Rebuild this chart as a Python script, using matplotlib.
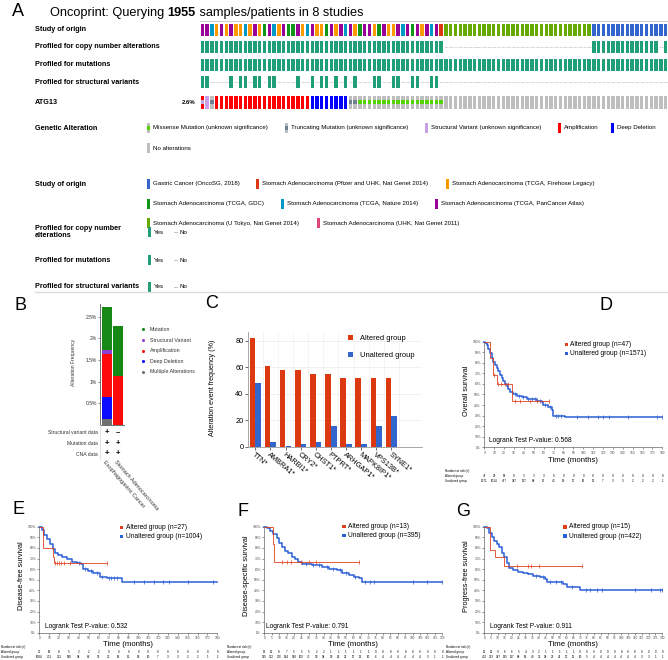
import numpy as np
import matplotlib
matplotlib.use('Agg')
import matplotlib.pyplot as plt
from matplotlib.patches import Rectangle
from matplotlib.transforms import blended_transform_factory

plt.rcParams['font.family'] = ['Liberation Sans', 'DejaVu Sans']

W, H = 668, 660

# ---------------- A: oncoprint data ----------------
study_of_origin = (['pan', 'pan', 'nat', 'fh', 'pan', 'fh', 'pan', 'fh', 'fh', 'nat',
                    'fh', 'pan', 'fh', 'gdc', 'pan', 'nat', 'fh', 'pan', 'gdc', 'gdc',
                    'pan', 'fh', 'nat', 'pan', 'fh', 'fh', 'gdc', 'pan', 'fh', 'pan',
                    'nat', 'pan', 'fh', 'gdc', 'pan', 'pan', 'fh', 'gdc', 'pan', 'fh',
                    'fh', 'pan', 'nat', 'pan', 'gdc', 'pan', 'fh', 'pan', 'nat', 'pan',
                    'pf'] + ['tok'] * 31 + ['sg'] * 16)
cna_profiled = [1] * 51 + [0] * 31 + [1] * 14 + [0] + [1]
mut_profiled = [1] * 98
sv_cols = [0, 1, 6, 8, 9, 11, 12, 14, 15, 20, 23, 25, 26, 28, 30, 32, 36, 37, 40, 41, 44, 45, 48, 49]
atg13 = (['amp_sv', 'sv', 'trunc'] + ['amp'] * 20 + ['del'] * 8 + ['trunc'] * 2
         + ['mis'] * 18 + ['none'] * 47)
atg13_pct = '2.6%'
n_samples = 1955
n_studies = 8

study_legend = [('sg', 'Gastric Cancer (OncoSG, 2018)'),
                ('pf', 'Stomach Adenocarcinoma (Pfizer and UHK, Nat Genet 2014)'),
                ('fh', 'Stomach Adenocarcinoma (TCGA, Firehose Legacy)'),
                ('gdc', 'Stomach Adenocarcinoma (TCGA, GDC)'),
                ('nat', 'Stomach Adenocarcinoma (TCGA, Nature 2014)'),
                ('pan', 'Stomach Adenocarcinoma (TCGA, PanCancer Atlas)'),
                ('tok', 'Stomach Adenocarcinoma (U Tokyo, Nat Genet 2014)'),
                ('uhk', 'Stomach Adenocarcinoma (UHK, Nat Genet 2011)')]
alt_legend = [('mis', 'Missense Mutation (unknown significance)'),
              ('trunc', 'Truncating Mutation (unknown significance)'),
              ('sv', 'Structural Variant (unknown significance)'),
              ('amp', 'Amplification'),
              ('del', 'Deep Deletion'),
              ('none', 'No alterations')]

# ---------------- B data ----------------
b_cancer = ['Esophagogastric Cancer', 'Stomach Adenocarcinoma']
b_multiple = [0.13, 0.0]
b_deep_del = [0.52, 0.0]
b_amp = [1.00, 1.13]
b_sv = [0.08, 0.0]
b_mutation = [1.00, 1.16]
b_sv_data = ['+', '\u2013']
b_mut_data = ['+', '+']
b_cna_data = ['+', '+']

# ---------------- C data ----------------
c_genes = ['TTN*', 'AMBRA1*', 'HARBI1*', 'CRY2*', 'CHST1*', 'PTPRT*', 'ARHGAP1*',
           'MAPK8IP1*', 'VPS13B*', 'SYNE1*']
c_altered = [81.8, 60.6, 57.6, 57.6, 54.5, 54.5, 51.5, 51.5, 51.5, 51.5]
c_unaltered = [48.3, 3.8, 0.8, 2.0, 3.5, 15.6, 1.8, 1.8, 15.6, 23.1]

# ---------------- D: overall survival ----------------
d_alt_t = [0, 5.7, 8.4, 12.5, 27.6]
d_alt_s = [1.0, 0.85, 0.68, 0.60, 0.44]
d_alt_end = 65.7
d_alt_cens = [10, 14, 17, 21, 24, 31, 36, 46, 53, 65.7]
d_un_t = [0, 1, 2.4, 4, 5.7, 7.5, 9.1, 11, 12.5, 14, 15.8, 17.5, 19.2, 21, 22.6, 24, 26,
          29.3, 32.7, 37.7, 42.8, 52.9, 58, 59.7, 64.7, 68.1, 69.8, 81.6]
d_un_s = [1.0, 0.985, 0.968, 0.93, 0.89, 0.85, 0.81, 0.78, 0.75, 0.72, 0.685, 0.655, 0.63,
          0.60, 0.58, 0.555, 0.527, 0.50, 0.486, 0.473, 0.457, 0.44, 0.43, 0.40, 0.385,
          0.35, 0.30, 0.285]
d_un_end = 180
d_un_cens = [31, 35, 39, 44, 48, 51, 56, 61, 66, 72, 75, 78, 94, 105, 115, 120, 126, 145, 175, 180]
d_risk_alt = [47, 29, 18, 8, 3, 3, 3, 0, 0, 0, 0, 0, 0, 0, 0, 0, 0, 0, 0]
d_risk_un = [1571, 1014, 477, 247, 137, 88, 67, 43, 19, 17, 16, 13, 7, 3, 3, 2, 2, 2, 1]

# ---------------- E: disease-free survival ----------------
e_alt_t = [0, 3.4, 13.5, 15.0]
e_alt_s = [1.0, 0.80, 0.71, 0.655]
e_alt_end = 68
e_alt_cens = [16, 18, 20, 22, 25, 31, 68]
e_un_t = [0, 2.4, 5.0, 7.4, 10.8, 13.5, 15.8, 19.2, 22.6, 27.6, 32.7, 37.7, 42.0, 43.8,
          49.5, 54.6, 61.3, 68.0, 83.2]
e_un_s = [1.0, 0.969, 0.92, 0.88, 0.836, 0.786, 0.755, 0.733, 0.717, 0.692, 0.67, 0.66,
          0.645, 0.597, 0.585, 0.56, 0.528, 0.513, 0.475]
e_un_end = 180
e_un_cens = [40, 46, 52, 58, 63, 70, 73, 76, 79, 96, 106, 116, 125, 131, 150, 176]
e_risk_alt = [27, 16, 8, 5, 2, 2, 2, 0, 0, 0, 0, 0, 0, 0, 0, 0, 0, 0, 0]
e_risk_un = [1004, 701, 331, 180, 94, 63, 51, 33, 16, 15, 14, 10, 7, 3, 3, 2, 2, 1, 1]

# ---------------- F: disease-specific survival ----------------
f_alt_t = [0, 5.6, 6.8]
f_alt_s = [1.0, 0.836, 0.667]
f_alt_end = 63.7
f_alt_cens = [12, 15, 18, 25, 30, 35, 63.7]
f_un_t = [0, 1.6, 3.8, 6.1, 8.4, 9.9, 11.7, 14.0, 16.3, 18.5, 20.8, 23.0, 25.7, 32.0,
          38.8, 43.3, 49.0, 52.4, 56.9, 60.3, 63.7, 65.9]
f_un_s = [1.0, 0.984, 0.962, 0.93, 0.89, 0.843, 0.81, 0.774, 0.748, 0.717, 0.695, 0.67,
          0.648, 0.638, 0.623, 0.604, 0.59, 0.566, 0.544, 0.522, 0.513, 0.481]
f_un_end = 120
f_un_cens = [28, 33, 37, 42, 46, 51, 55, 61, 68, 71, 74, 100, 110, 120]
f_risk_alt = [13, 12, 8, 7, 5, 5, 5, 2, 2, 1, 1, 1, 1, 1, 1, 0, 0, 0, 0, 0, 0, 0, 0, 0, 0]
f_risk_un = [395, 332, 276, 194, 140, 102, 75, 53, 38, 29, 25, 22, 17, 12, 10, 6, 4, 4, 4,
             4, 4, 4, 3, 1, 1]

# ---------------- G: progress-free survival ----------------
g_alt_t = [0, 4.1, 7.8, 14.1]
g_alt_s = [1.0, 0.78, 0.71, 0.632]
g_alt_end = 71
g_alt_cens = [24, 32, 34, 40, 71]
g_un_t = [0, 1.7, 3.4, 5.4, 7.3, 9.0, 10.7, 12.7, 14.6, 16.3, 18.0, 21.2, 24.8, 28.5, 32.1,
          35.8, 40.6, 44.3, 45.5, 54.0, 57.7, 60.1, 69.8]
g_un_s = [1.0, 0.984, 0.943, 0.906, 0.868, 0.836, 0.805, 0.755, 0.71, 0.654, 0.607, 0.591,
          0.575, 0.566, 0.553, 0.535, 0.522, 0.503, 0.481, 0.475, 0.456, 0.434, 0.403]
g_un_end = 130
g_un_cens = [38, 43, 48, 52, 56, 64, 74, 77, 82, 86, 110, 122, 128, 130]
g_risk_alt = [15, 12, 9, 6, 6, 5, 4, 3, 2, 1, 1, 1, 1, 1, 0, 0, 0, 0, 0, 0, 0, 0, 0, 0, 0, 0, 0]
g_risk_un = [422, 333, 247, 195, 117, 88, 65, 49, 33, 28, 23, 21, 17, 11, 10, 5, 4, 4, 4, 4,
             4, 4, 4, 3, 3, 1, 1]

# ---------------- styles ----------------
study_color = {'sg': '#3366cc', 'pf': '#dc3912', 'fh': '#ff9900', 'gdc': '#109618',
               'nat': '#0099c6', 'pan': '#990099', 'tok': '#66aa00', 'uhk': '#dd4477'}
alt_color = {'mis': '#53d400', 'trunc': '#708090', 'sv': '#c9a0e6', 'amp': '#ff0000',
             'del': '#0000ff', 'none': '#bebebe'}
TEAL = '#1f9e77'
RED = '#e0401e'
BLUE = '#2b5fd6'
LAB = 5.2   # bold row labels in A


def box(x, y, w, h):
    # pixel box (top-left origin) -> figure fraction
    return [x / W, 1 - (y + h) / H, w / W, h / H]


fig = plt.figure(figsize=(W / 100, H / 100), dpi=100)
# overlay axes in pixel coordinates for free text, legends and rules
bg = fig.add_axes([0, 0, 1, 1], zorder=10)
bg.set_xlim(0, W)
bg.set_ylim(H, 0)
bg.axis('off')
bg.patch.set_visible(False)


def txt(x, y, s, size=4.4, **kw):
    kw.setdefault('va', 'center')
    kw.setdefault('ha', 'left')
    return bg.text(x, y, s, fontsize=size, **kw)


# panel letters
for letter, (lx, ly) in zip('ABCDEFG', [(18, 12), (20, 305), (212, 304), (606, 305),
                                        (19, 510), (243, 511), (463, 511)]):
    txt(lx, ly, letter, size=13, ha='center')

# ---------------- A ----------------
t1 = txt(50, 13, 'Oncoprint: Querying ', size=9.2)
t2 = bg.annotate(str(n_samples), xy=(1, 0), xycoords=t1, va='bottom', ha='left',
                 fontsize=9.2, fontweight='bold')
bg.annotate(' samples/patients in %d studies' % n_studies, xy=(1, 0), xycoords=t2,
            va='bottom', ha='left', fontsize=9.2)
bg.plot([200, 668], [21, 21], color='#d0d0d0', lw=0.8)

n = len(atg13)
tracks = {'study': (23.5, 12), 'cna': (41, 12), 'mut': (58.5, 12), 'sv': (76, 12),
          'gene': (95.5, 13)}
track_labels = [('study', 'Study of origin'), ('cna', 'Profiled for copy number alterations'),
                ('mut', 'Profiled for mutations'), ('sv', 'Profiled for structural variants'),
                ('gene', 'ATG13')]
for key, lab in track_labels:
    top, h = tracks[key]
    txt(35, top + h / 2, lab, size=LAB, fontweight='bold')
txt(195, tracks['gene'][0] + 6.5, atg13_pct, size=4.3, ha='right', fontweight='bold')

ax_a = fig.add_axes(box(200, 20, 468, 95))
ax_a.set_xlim(0, n)
ax_a.set_ylim(115, 20)
ax_a.axis('off')
cols = np.arange(n) + 0.5
bw = 0.72

top, h = tracks['study']
ax_a.bar(cols, h, bottom=top, width=bw, color=[study_color[c] for c in study_of_origin])

sv_profiled = [1 if i in sv_cols else 0 for i in range(n)]
for key, prof in (('cna', cna_profiled), ('mut', mut_profiled), ('sv', sv_profiled)):
    top, h = tracks[key]
    prof = np.array(prof, bool)
    ax_a.bar(cols[prof], h, bottom=top, width=bw, color=TEAL)
    if (~prof).any():
        ax_a.hlines(np.full((~prof).sum(), top + h / 2), cols[~prof] - 0.4, cols[~prof] + 0.4,
                    color='#c8c8c8', lw=0.5)

top, h = tracks['gene']
alt = np.array(atg13)
ax_a.bar(cols, h, bottom=top, width=bw, color=alt_color['none'])
for code in ('amp', 'del', 'sv'):
    m = (alt == code) | ((alt == 'amp_sv') & (code == 'amp'))
    ax_a.bar(cols[m], h, bottom=top, width=bw, color=alt_color[code])
for code in ('mis', 'trunc', 'sv'):
    m = (alt == code) if code != 'sv' else (alt == 'amp_sv')
    ax_a.bar(cols[m], h / 3, bottom=top + h / 3, width=bw, color=alt_color[code])

# A legends
def marker(x, y, color, half=None):
    bg.add_patch(Rectangle((x, y - 5), 3, 10, color=alt_color['none'] if half else color, lw=0))
    if half:
        bg.add_patch(Rectangle((x, y - 5 / 3), 3, 10 / 3, color=color, lw=0))


txt(35, 128, 'Genetic Alteration', size=LAB, fontweight='bold')
alt_pos = [(147, 128), (284.6, 128), (425.2, 128), (558.2, 128), (611.4, 128), (147, 148)]
for (code, lab), (x, y) in zip(alt_legend, alt_pos):
    marker(x, y, alt_color[code], half=code in ('mis', 'trunc'))
    txt(x + 6, y, lab)

txt(35, 184, 'Study of origin', size=LAB, fontweight='bold')
study_pos = [(147, 184), (255.6, 184), (446, 184), (147, 203.5), (281.2, 203.5),
             (435.4, 203.5), (147, 223), (317.4, 223)]
for (code, lab), (x, y) in zip(study_legend, study_pos):
    marker(x, y, study_color[code])
    txt(x + 6, y, lab)

for lab, y in (('Profiled for copy number\nalterations', 232), ('Profiled for mutations', 260),
               ('Profiled for structural variants', 287)):
    txt(35, y, lab, size=LAB, fontweight='bold', linespacing=1.1)
    marker(148, y, TEAL)
    txt(153.5, y, 'Yes')
    bg.plot([173.5, 176.5], [y, y], color='#aaaaaa', lw=0.5)
    txt(180, y, 'No')
bg.plot([35, 668], [291.5, 291.5], color='#dddddd', lw=1)

# ---------------- B ----------------
ax_b = fig.add_axes(box(100, 303.8, 24, 121.2))
xb = np.arange(len(b_cancer))
bottom = np.zeros(len(b_cancer))
b_layers = [(b_multiple, '#707070'), (b_deep_del, '#0a0aff'), (b_amp, '#ff0a0a'),
            (b_sv, '#8f3fd0'), (b_mutation, '#168816')]
for vals, colr in b_layers:
    ax_b.bar(xb, vals, bottom=bottom, width=0.85, color=colr)
    bottom = bottom + np.array(vals)
ax_b.set_xlim(-0.6, 1.5)
ax_b.set_ylim(0, 2.8)
ax_b.set_xticks([])
ax_b.set_yticks([0.5, 1, 1.5, 2, 2.5])
ax_b.set_yticklabels(['0.5%', '1%', '1.5%', '2%', '2.5%'], fontsize=3.6)
ax_b.tick_params(axis='y', length=1.5, width=0.4, pad=0.8, colors='#333333')
ax_b.patch.set_visible(False)
for s in ('top', 'right'):
    ax_b.spines[s].set_visible(False)
for s in ('left', 'bottom'):
    ax_b.spines[s].set_color('#555555')
    ax_b.spines[s].set_linewidth(0.6)
txt(73, 362, 'Alteration Frequency', size=3.6, rotation=90, ha='center', color='#333333')

for (lab, colr), y in zip([('Mutation', '#168816'), ('Structural Variant', '#8f3fd0'),
                           ('Amplification', '#ff0a0a'), ('Deep Deletion', '#0a0aff'),
                           ('Multiple Alterations', '#707070')],
                          [329.3, 340, 350.7, 361.3, 372]):
    bg.plot(143, y, 'o', ms=2.2, color=colr, mec='none')
    txt(149.5, y, lab, size=3.8, color='#333333')

trb = blended_transform_factory(ax_b.transData, bg.transData)
for lab, marks, y in (('Structural variant data', b_sv_data, 432.7),
                      ('Mutation data', b_mut_data, 443.7), ('CNA data', b_cna_data, 454)):
    txt(98, y, lab, size=3.6, ha='right', color='#333333')
    for xi, mk in zip(xb, marks):
        ax_b.text(xi, y, mk, transform=trb, fontsize=5.5, fontweight='bold',
                  ha='center', va='center', clip_on=False)
bg.plot([100, 100], [425, 459], color='#dddddd', lw=0.6)
for xi, lab in zip(xb, b_cancer):
    ax_b.text(xi - 0.3, 461, lab, transform=trb, fontsize=4.0, rotation=-49,
              rotation_mode='anchor', ha='left', va='center', color='#333333')

# ---------------- C ----------------
ax_c = fig.add_axes(box(247.7, 331.7, 174, 115))
ax_c.patch.set_visible(False)
xc = np.arange(len(c_genes))
ax_c.bar(xc - 0.19, c_altered, width=0.375, color='#dc3912', zorder=3, label='Altered group')
ax_c.bar(xc + 0.19, c_unaltered, width=0.375, color='#3366cc', zorder=3, label='Unaltered group')
ax_c.set_xlim(-0.5, 11)
ax_c.set_ylim(0, 86.8)
ax_c.set_yticks([0, 20, 40, 60, 80])
ax_c.set_xticks(xc)
ax_c.set_xticklabels(c_genes, rotation=-40, ha='left', rotation_mode='anchor', fontsize=5.3)
ax_c.set_xticks(np.arange(0.5, 10.5, 1), minor=True)
ax_c.grid(axis='y', color='#ececec', lw=0.5, zorder=0)
ax_c.grid(axis='x', which='minor', color='#f2f2f2', lw=0.5, zorder=0)
ax_c.tick_params(axis='y', labelsize=5.3, length=2, width=0.4, pad=1)
ax_c.tick_params(axis='x', length=2, width=0.4, pad=1.5)
ax_c.tick_params(axis='x', which='minor', length=0)
for s in ('top', 'right'):
    ax_c.spines[s].set_visible(False)
for s in ('left', 'bottom'):
    ax_c.spines[s].set_color('#999999')
    ax_c.spines[s].set_linewidth(0.6)
ax_c.legend(loc='upper right', bbox_to_anchor=(1.0, 1.03), frameon=False, fontsize=5.4,
            handlelength=0.6, handleheight=0.6, handletextpad=1.0, labelspacing=1.3)
txt(212, 388, 'Alteration event frequency (%)', size=5.1, rotation=90, ha='center')


# ---------------- KM panels ----------------
def draw_km(pos, xmax, step, alt_t, alt_s, alt_end, alt_c, un_t, un_s, un_end, un_c,
            risk_alt, risk_un, risk_y, risk_x, ylab, ylab_x, leg, pval, lr_xy, xlab_y):
    ax = fig.add_axes(box(*pos))
    ax.patch.set_visible(False)
    for t, s, end, c, colr, lw in ((un_t, un_s, un_end, un_c, BLUE, 1.1),
                                   (alt_t, alt_s, alt_end, alt_c, RED, 0.6)):
        ax.step(t + [end], s + [s[-1]], where='post', color=colr, lw=lw, clip_on=False)
        idx = np.searchsorted(t, c, side='right') - 1
        ax.plot(c, np.array(s)[idx], ls='none', marker='|', ms=2.2, mew=0.5, color=colr,
                clip_on=False)
    ax.set_xlim(0, xmax)
    ax.set_ylim(0, 1)
    ticks = np.arange(0, xmax + 1, step)
    ax.set_xticks(ticks)
    ax.set_xticklabels([str(v) for v in ticks], fontsize=2.3)
    yt = np.linspace(0, 1, 11)
    ax.set_yticks(yt)
    ax.set_yticklabels(['%d%%' % round(v * 100) for v in yt], fontsize=2.3)
    ax.tick_params(length=1.5, width=0.4, pad=1, colors='#444444')
    for s in ('top', 'right'):
        ax.spines[s].set_visible(False)
    for s in ('left', 'bottom'):
        ax.spines[s].set_color('#666666')
        ax.spines[s].set_linewidth(0.5)
    x0, y0, w, h = pos
    txt(ylab_x, y0 + h / 2 - 4, ylab, size=5.3, rotation=90, ha='center')
    txt(x0 + w / 2, xlab_y, 'Time (months)', size=5.6, ha='center')
    lx, ly = leg[0]
    for (lab, colr), dy in ((leg[1], 0), (leg[2], 9)):
        bg.add_patch(Rectangle((lx, ly + dy - 1.6), 3.2, 3.2, color=colr, lw=0))
        txt(lx + 5.5, ly + dy, lab, size=4.8)
    txt(lr_xy[0], lr_xy[1], 'Logrank Test P-value: %s' % pval, size=4.8)
    tr = blended_transform_factory(ax.transData, bg.transData)
    for t, a, u in zip(ticks, risk_alt, risk_un):
        ax.text(t, risk_y + 5, str(a), transform=tr, fontsize=2.2, ha='center', va='center')
        ax.text(t, risk_y + 10, str(u), transform=tr, fontsize=2.2, ha='center', va='center')
    for lab, dy in (('Number at risk (n)', 0), ('Altered group', 5), ('Unaltered group', 10)):
        txt(risk_x, risk_y + dy, lab, size=2.2)
    return ax


draw_km((484.3, 341.7, 178, 105.6), 180, 10, d_alt_t, d_alt_s, d_alt_end, d_alt_cens,
        d_un_t, d_un_s, d_un_end, d_un_cens, d_risk_alt, d_risk_un, 470.7, 445,
        'Overall survival', 467,
        ((565, 344.3), ('Altered group (n=47)', RED), ('Unaltered group (n=1571)', BLUE)),
        '0.568', (489.3, 441), 460)
draw_km((39.3, 526.7, 178, 106), 180, 10, e_alt_t, e_alt_s, e_alt_end, e_alt_cens,
        e_un_t, e_un_s, e_un_end, e_un_cens, e_risk_alt, e_risk_un, 646.7, 1,
        'Disease-free survival', 22,
        ((120, 527.7), ('Altered group (n=27)', RED), ('Unaltered group (n=1004)', BLUE)),
        '0.532', (45, 626.7), 644)
draw_km((264.3, 526.7, 178, 106), 120, 5, f_alt_t, f_alt_s, f_alt_end, f_alt_cens,
        f_un_t, f_un_s, f_un_end, f_un_cens, f_risk_alt, f_risk_un, 646.7, 227,
        'Disease-specific survival', 247,
        ((342.3, 526.7), ('Altered group (n=13)', RED), ('Unaltered group (n=395)', BLUE)),
        '0.791', (265.7, 626.7), 644)
draw_km((484.3, 526.7, 178, 106), 130, 5, g_alt_t, g_alt_s, g_alt_end, g_alt_cens,
        g_un_t, g_un_s, g_un_end, g_un_cens, g_risk_alt, g_risk_un, 646.7, 446,
        'Progress-free survival', 467,
        ((563.3, 527), ('Altered group (n=15)', RED), ('Unaltered group (n=422)', BLUE)),
        '0.911', (490, 626.7), 644)

fig.savefig('out.png', dpi=100)
